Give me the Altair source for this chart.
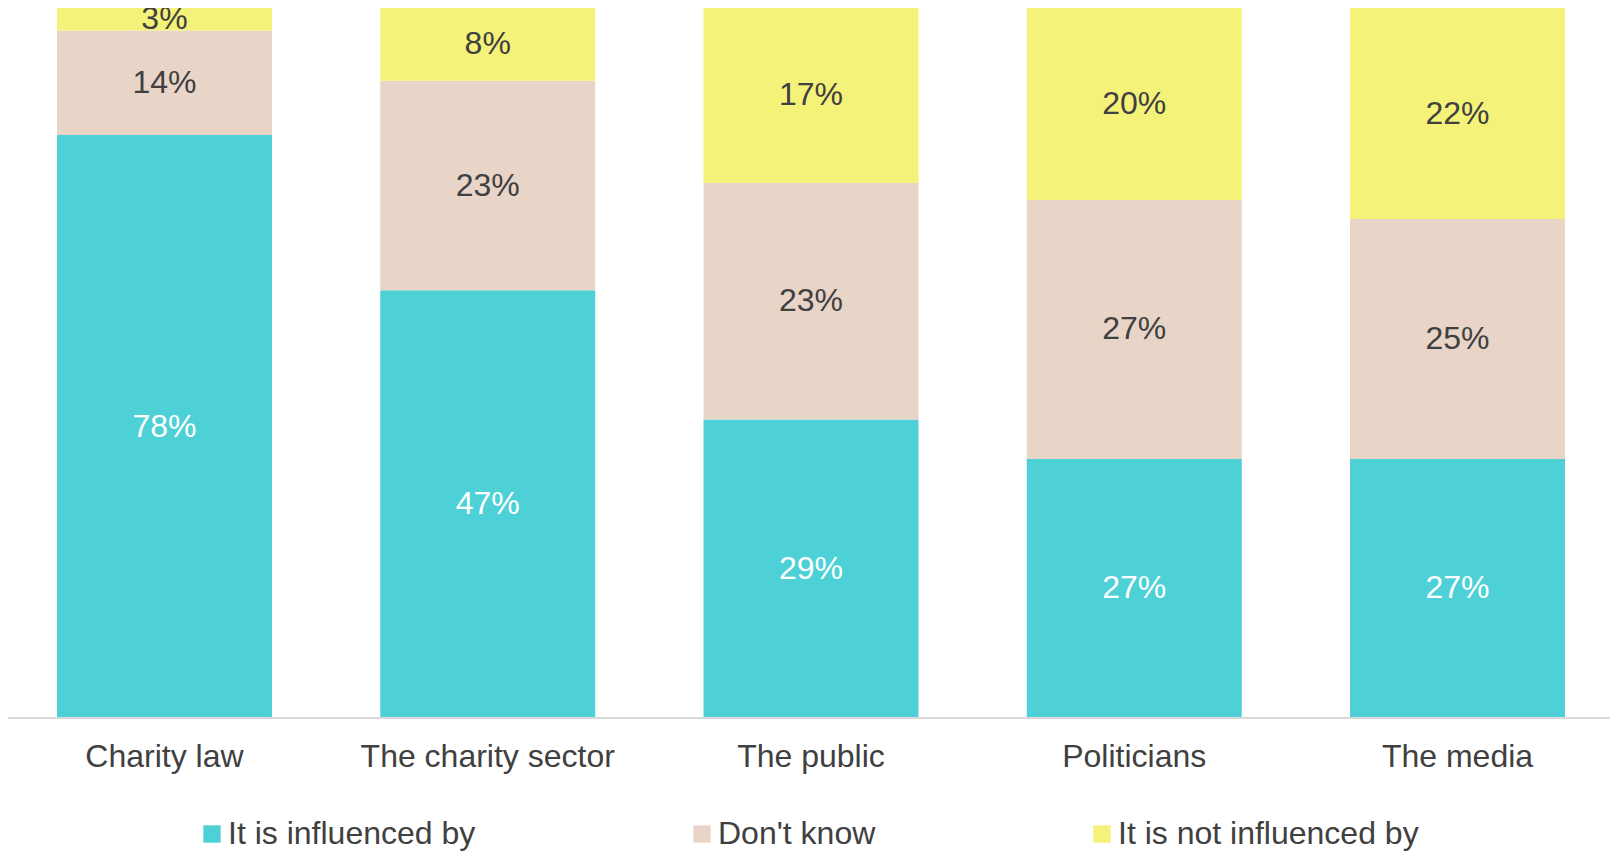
import altair as alt
import pandas as pd

categories = ["Charity law", "The charity sector", "The public", "Politicians", "The media"]
series = ["It is influenced by", "Don't know", "It is not influenced by"]
influenced = [78, 47, 29, 27, 27]
dont_know = [14, 23, 23, 27, 25]
not_influenced = [3, 8, 17, 20, 22]
colors = ["#4DD0D6", "#E8D5C8", "#F5F27A"]

rows = []
for i, c in enumerate(categories):
    for j, (s, vals) in enumerate(zip(series, [influenced, dont_know, not_influenced])):
        rows.append({"category": c, "series": s, "order": j, "value": vals[i]})
df = pd.DataFrame(rows)

FONT = "Liberation Sans"
TXT = "#404040"
FS = 32
W, H = 1602, 710

base = alt.Chart(df).transform_stack(
    stack="value",
    groupby=["category"],
    as_=["v0", "v1"],
    offset="normalize",
    sort=[alt.SortField("order", order="ascending")],
).transform_calculate(
    mid="(datum.v0 + datum.v1) / 2",
    label="datum.value + '%'",
)

x_enc = alt.X(
    "category:N",
    sort=categories,
    scale=alt.Scale(range=[49, 1557], paddingInner=0.335, paddingOuter=0),
    axis=alt.Axis(
        title=None,
        labelAngle=0,
        ticks=False,
        tickSize=0,
        domain=False,
        labelPadding=23,
        labelFontSize=FS,
        labelFont=FONT,
        labelColor=TXT,
        labelLimit=0,
        grid=False,
    ),
)

bars = base.mark_bar().encode(
    x=x_enc,
    y=alt.Y("v0:Q", scale=alt.Scale(domain=[0, 1]), axis=None),
    y2="v1:Q",
    color=alt.Color(
        "series:N",
        scale=alt.Scale(domain=series, range=colors),
        legend=alt.Legend(
            title=None,
            orient="none",
            legendX=188,
            legendY=810,
            direction="horizontal",
            symbolType="square",
            symbolSize=300,
            symbolStrokeWidth=0,
            labelFontSize=FS,
            labelFont=FONT,
            labelColor=TXT,
            columnPadding=210,
            labelOffset=0,
            labelLimit=0,
        ),
    ),
)

baseline = alt.Chart(df).mark_rule(color="#D9D9D9", strokeWidth=2).encode(
    x=alt.value(0), x2=alt.value(W), y=alt.value(H)
)

labels = base.mark_text(fontSize=FS, font=FONT, baseline="middle", align="center").encode(
    x=alt.X("category:N", sort=categories),
    y=alt.Y("mid:Q"),
    text="label:N",
    color=alt.condition(
        alt.datum.series == "It is influenced by", alt.value("white"), alt.value(TXT)
    ),
)

chart = (
    alt.layer(bars, baseline, labels)
    .properties(
        width=W,
        height=H,
        padding={"left": 0, "top": 0, "right": 0, "bottom": 140},
        autosize=alt.AutoSizeParams(type="none"),
    )
    .configure_view(stroke=None)
)

chart.save("out.html", embed_options={"renderer": "svg", "actions": False})
